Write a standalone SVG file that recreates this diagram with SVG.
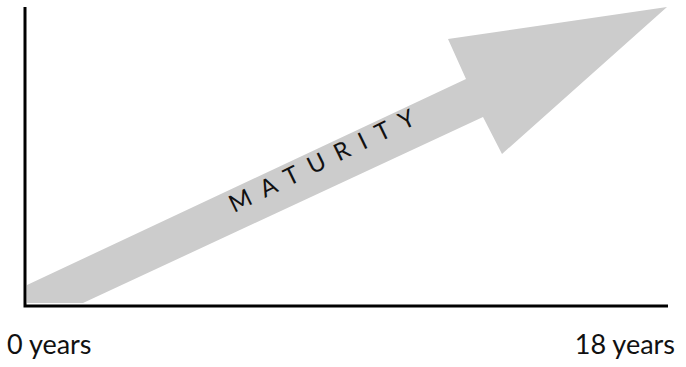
<svg xmlns="http://www.w3.org/2000/svg" width="686" height="367" viewBox="0 0 686 367">
<style>
.axis{stroke:#000;stroke-width:3;fill:none}
.lbl{font-family:Lato,"Open Sans",sans-serif;font-size:27px;fill:#111}
.mat{font-family:Lato,"Open Sans",sans-serif;font-size:24px;fill:#111;letter-spacing:12px}
</style>
<rect width="686" height="367" fill="#fff"/>
<g id="arrow">
<polygon points="27,285 466,79 448,39 667,7 502,154 483,117 83,303 27,303" fill="#cccccc"/>
<text class="mat" transform="translate(234,213) rotate(-26)">MATURITY</text>
</g>
<g id="axes">
<path class="axis" d="M25,7 V306 H668"/>
</g>
<text class="lbl" x="7" y="354">0 years</text>
<text class="lbl" x="675" y="354" text-anchor="end">18 years</text>
</svg>
